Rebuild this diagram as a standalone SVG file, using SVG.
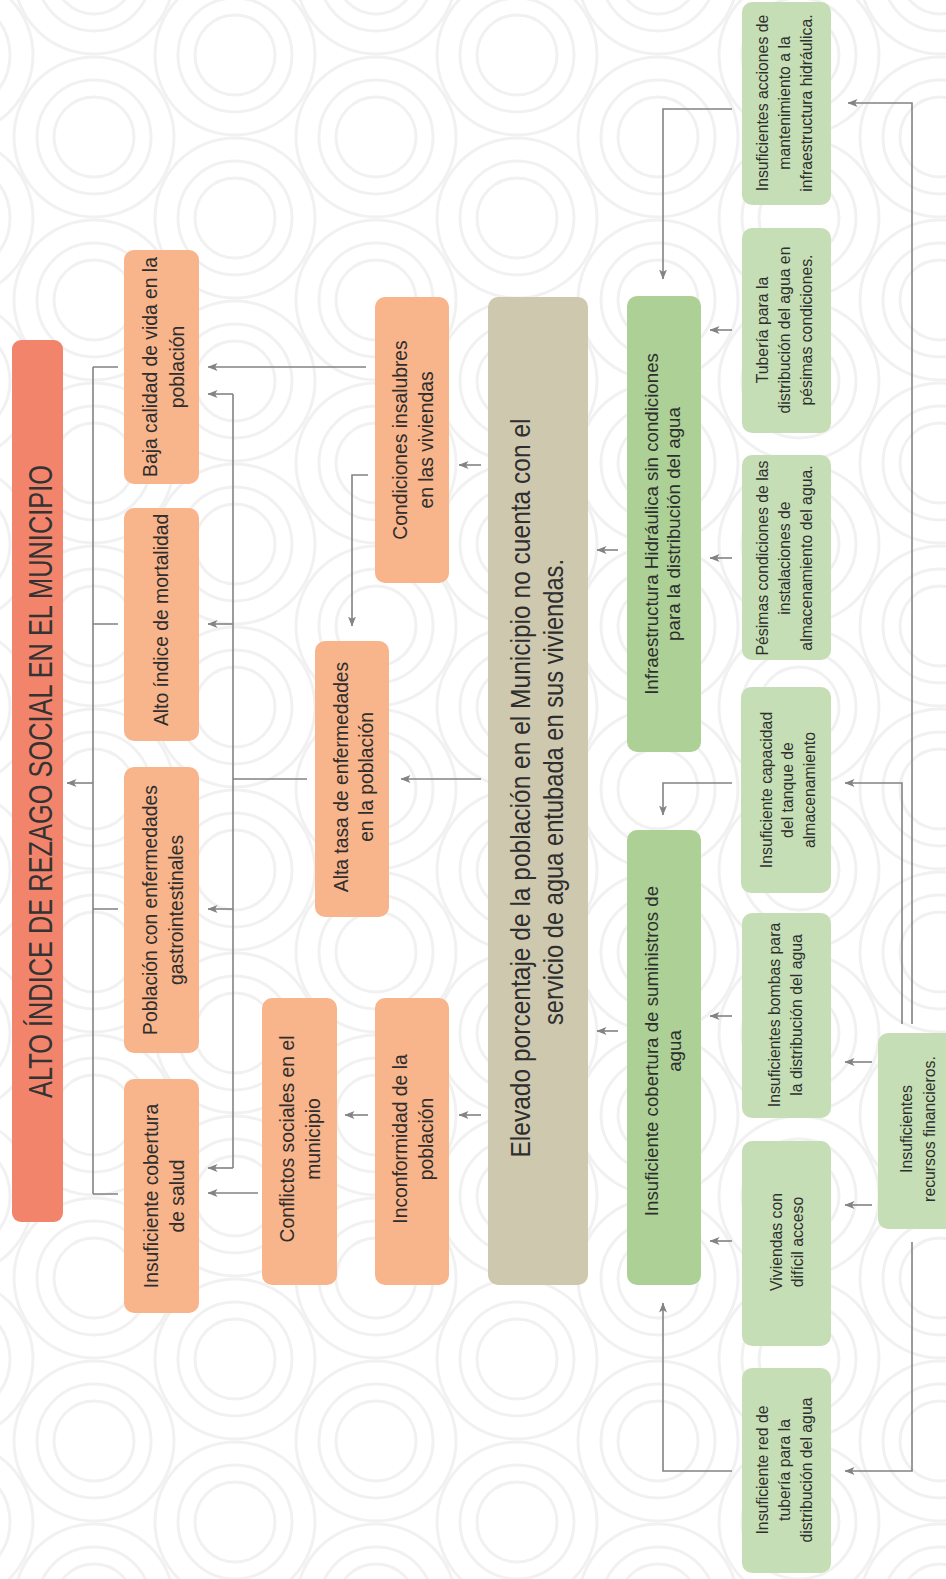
<svg xmlns="http://www.w3.org/2000/svg" xmlns:xlink="http://www.w3.org/1999/xlink" width="946" height="1579" viewBox="0 0 946 1579">
<style>
.tx{font-family:"Liberation Sans",Arial,sans-serif;fill:#2e2e2e;text-anchor:middle}
.ti{font-size:33px;fill:#333}
.big{font-size:28px}
.or{font-size:19.3px}
.gb{font-size:18.7px}
.gs{font-size:15.8px}
.c-or{fill:#f8b48a}
.c-gb{fill:#acd096}
.c-gs{fill:#c6deb5}
.ln{fill:none;stroke:#828386;stroke-width:1.6}
.ar{marker-end:url(#ah)}
.bgc{fill:none;stroke:#f1f1f1;stroke-width:3}
</style>
<defs>
<marker id="ah" viewBox="0 0 10 8" refX="9.5" refY="4" markerWidth="10" markerHeight="8" orient="auto" markerUnits="userSpaceOnUse">
<path d="M0,0 L10,4 L0,8 L2.5,4 z" fill="#828386"/>
</marker>
<g id="motif" class="bgc">
<circle r="40"/><circle r="57"/><circle r="80"/>
</g>
<pattern id="bg" x="0" y="0" width="282" height="163" patternUnits="userSpaceOnUse">
<use xlink:href="#motif" x="94" y="137"/>
<use xlink:href="#motif" x="94" y="-26"/>
<use xlink:href="#motif" x="235" y="55"/>
<use xlink:href="#motif" x="235" y="218"/>
<use xlink:href="#motif" x="-47" y="55"/>
<use xlink:href="#motif" x="-47" y="218"/>
</pattern>
</defs>
<rect width="946" height="1579" fill="#ffffff"/>
<rect width="946" height="1579" fill="url(#bg)"/>

<g id="connectors">
<path class="ln" d="M93,367 V1194 M93,367 H118 M93,624 H118 M93,909 H118 M93,1194 H118"/>
<path class="ln ar" d="M93,783 H67"/>
<path class="ln ar" d="M366,367 H208"/>
<path class="ln" d="M307,779 H233 M233,394 V1168"/>
<path class="ln ar" d="M233,394 H208"/>
<path class="ln ar" d="M233,624 H208"/>
<path class="ln ar" d="M233,909 H208"/>
<path class="ln ar" d="M233,1168 H208"/>
<path class="ln ar" d="M481,465 H459"/>
<path class="ln ar" d="M368,475 H352 V626"/>
<path class="ln ar" d="M481,779 H401"/>
<path class="ln ar" d="M481,1115 H459"/>
<path class="ln ar" d="M368,1115 H345"/>
<path class="ln ar" d="M258,1193 H208"/>
<path class="ln ar" d="M618,550 H597"/>
<path class="ln ar" d="M618,1031 H597"/>
<path class="ln ar" d="M732,109 H663 V279"/>
<path class="ln ar" d="M732,330 H710"/>
<path class="ln ar" d="M732,558 H710"/>
<path class="ln ar" d="M732,783 H663 V815"/>
<path class="ln ar" d="M732,1016 H710"/>
<path class="ln ar" d="M732,1241 H710"/>
<path class="ln ar" d="M732,1471 H663 V1303"/>
<path class="ln ar" d="M912,1024 V103 H848"/>
<path class="ln ar" d="M902,1024 V783 H845"/>
<path class="ln ar" d="M872,1062 H845"/>
<path class="ln ar" d="M872,1205 H845"/>
<path class="ln ar" d="M912,1242 V1471 H845"/>
</g>

<g id="title">
<rect x="12" y="340" width="51" height="882" rx="9" fill="#f3846c"/>
<text class="tx ti" transform="translate(52,781.5) rotate(-90)" textLength="633" lengthAdjust="spacingAndGlyphs">ALTO ÍNDICE DE REZAGO SOCIAL EN EL MUNICIPIO</text>
</g>

<g id="n-baja">
<rect class="c-or" x="124" y="250" width="75" height="234" rx="10"/>
<text class="tx or" transform="translate(157,367) rotate(-90)">Baja calidad de vida en la</text>
<text class="tx or" transform="translate(184,367) rotate(-90)">población</text>
</g>
<g id="n-mortalidad">
<rect class="c-or" x="124" y="508" width="75" height="233" rx="10"/>
<text class="tx or" transform="translate(168,620) rotate(-90)">Alto índice de mortalidad</text>
</g>
<g id="n-gastro">
<rect class="c-or" x="124" y="767" width="75" height="286" rx="10"/>
<text class="tx or" transform="translate(157,910) rotate(-90)">Población con enfermedades</text>
<text class="tx or" transform="translate(183,910) rotate(-90)">gastrointestinales</text>
</g>
<g id="n-salud">
<rect class="c-or" x="124" y="1079" width="75" height="234" rx="10"/>
<text class="tx or" transform="translate(158,1196) rotate(-90)">Insuficiente cobertura</text>
<text class="tx or" transform="translate(184,1196) rotate(-90)">de salud</text>
</g>
<g id="n-alta-tasa">
<rect class="c-or" x="315" y="641" width="74" height="276" rx="10"/>
<text class="tx or" transform="translate(348,777) rotate(-90)">Alta tasa de enfermedades</text>
<text class="tx or" transform="translate(373,777) rotate(-90)">en la población</text>
</g>
<g id="n-conflictos">
<rect class="c-or" x="262" y="998" width="75" height="287" rx="10"/>
<text class="tx or" transform="translate(294,1139) rotate(-90)">Conflictos sociales en el</text>
<text class="tx or" transform="translate(320,1139) rotate(-90)">municipio</text>
</g>
<g id="n-condiciones">
<rect class="c-or" x="375" y="297" width="74" height="286" rx="10"/>
<text class="tx or" transform="translate(407,440) rotate(-90)">Condiciones insalubres</text>
<text class="tx or" transform="translate(433,440) rotate(-90)">en las viviendas</text>
</g>
<g id="n-inconformidad">
<rect class="c-or" x="375" y="998" width="74" height="287" rx="10"/>
<text class="tx or" transform="translate(407,1139) rotate(-90)">Inconformidad de la</text>
<text class="tx or" transform="translate(433,1139) rotate(-90)">población</text>
</g>

<g id="n-central">
<rect x="488" y="297" width="100" height="988" rx="10" fill="#cec8af"/>
<text class="tx big" transform="translate(530,788) rotate(-90)" textLength="739" lengthAdjust="spacingAndGlyphs">Elevado porcentaje de la población en el Municipio no cuenta con el</text>
<text class="tx big" transform="translate(563,792) rotate(-90)" textLength="466" lengthAdjust="spacingAndGlyphs">servicio de agua entubada en sus viviendas.</text>
</g>

<g id="n-infraestructura">
<rect class="c-gb" x="627" y="296" width="74" height="456" rx="10"/>
<text class="tx gb" transform="translate(658,524) rotate(-90)">Infraestructura Hidráulica sin condiciones</text>
<text class="tx gb" transform="translate(680,524) rotate(-90)">para la distribución del agua</text>
</g>
<g id="n-suministros">
<rect class="c-gb" x="627" y="830" width="74" height="455" rx="10"/>
<text class="tx gb" transform="translate(658,1051) rotate(-90)">Insuficiente cobertura de suministros de</text>
<text class="tx gb" transform="translate(681,1051) rotate(-90)">agua</text>
</g>

<g id="n-mantenimiento">
<rect class="c-gs" x="742" y="2" width="89" height="203" rx="10"/>
<text class="tx gs" transform="translate(768,103) rotate(-90)">Insuficientes acciones de</text>
<text class="tx gs" transform="translate(790,103) rotate(-90)">mantenimiento a la</text>
<text class="tx gs" transform="translate(812,103) rotate(-90)">infraestructura hidráulica.</text>
</g>
<g id="n-tuberia">
<rect class="c-gs" x="742" y="228" width="89" height="205" rx="10"/>
<text class="tx gs" transform="translate(768,330) rotate(-90)">Tubería para la</text>
<text class="tx gs" transform="translate(790,330) rotate(-90)">distribución del agua en</text>
<text class="tx gs" transform="translate(812,330) rotate(-90)">pésimas condiciones.</text>
</g>
<g id="n-pesimas">
<rect class="c-gs" x="742" y="455" width="89" height="205" rx="10"/>
<text class="tx gs" transform="translate(768,558) rotate(-90)">Pésimas condiciones de las</text>
<text class="tx gs" transform="translate(790,558) rotate(-90)">instalaciones de</text>
<text class="tx gs" transform="translate(812,558) rotate(-90)">almacenamiento del agua.</text>
</g>
<g id="n-capacidad">
<rect class="c-gs" x="741" y="687" width="90" height="206" rx="10"/>
<text class="tx gs" transform="translate(772,790) rotate(-90)">Insuficiente capacidad</text>
<text class="tx gs" transform="translate(793,790) rotate(-90)">del tanque de</text>
<text class="tx gs" transform="translate(815,790) rotate(-90)">almacenamiento</text>
</g>
<g id="n-bombas">
<rect class="c-gs" x="742" y="913" width="89" height="205" rx="10"/>
<text class="tx gs" transform="translate(780,1015) rotate(-90)">Insuficientes bombas para</text>
<text class="tx gs" transform="translate(802,1015) rotate(-90)">la distribución del agua</text>
</g>
<g id="n-viviendas">
<rect class="c-gs" x="742" y="1141" width="89" height="205" rx="10"/>
<text class="tx gs" transform="translate(782,1242) rotate(-90)">Viviendas con</text>
<text class="tx gs" transform="translate(803,1242) rotate(-90)">difícil acceso</text>
</g>
<g id="n-red">
<rect class="c-gs" x="742" y="1368" width="89" height="205" rx="10"/>
<text class="tx gs" transform="translate(768,1470) rotate(-90)">Insuficiente red de</text>
<text class="tx gs" transform="translate(790,1470) rotate(-90)">tubería para la</text>
<text class="tx gs" transform="translate(812,1470) rotate(-90)">distribución del agua</text>
</g>
<g id="n-recursos">
<rect class="c-gs" x="878" y="1033" width="80" height="196" rx="10"/>
<text class="tx gs" transform="translate(912,1129) rotate(-90)">Insuficientes</text>
<text class="tx gs" transform="translate(935,1129) rotate(-90)">recursos financieros.</text>
</g>
</svg>
